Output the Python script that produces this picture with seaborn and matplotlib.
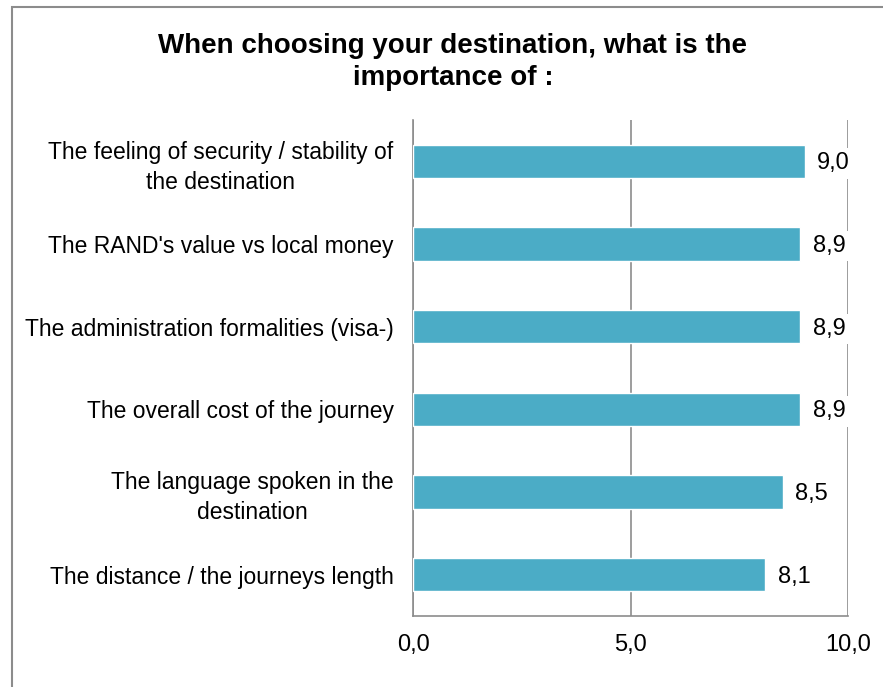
import matplotlib
matplotlib.use("Agg")
import matplotlib.pyplot as plt
import seaborn as sns
import pandas as pd
from matplotlib.patches import Rectangle

categories = [
    "The feeling of security / stability of\nthe destination",
    "The RAND's value vs local money",
    "The administration formalities (visa-)",
    "The overall cost of the journey",
    "The language spoken in the\ndestination",
    "The distance / the journeys length",
]
scores = [9.0, 8.9, 8.9, 8.9, 8.5, 8.1]
x_ticks = [0, 5, 10]
x_tick_labels = ["0,0", "5,0", "10,0"]

title = "When choosing your destination, what is the\nimportance of :"
bar_color = "#4BACC6"
grid_color = "#8C8C8C"

df = pd.DataFrame({"category": categories, "score": scores})

sns.set_theme(style="white")
plt.rcParams["font.family"] = ["Liberation Sans", "DejaVu Sans"]

W, H = 883, 687
fig = plt.figure(figsize=(W / 100, H / 100), dpi=100)
ax = fig.add_axes([413 / W, 1 - 616 / H, (848 - 413) / W, (616 - 120) / H])

sns.barplot(data=df, x="score", y="category", color=bar_color, saturation=1,
            width=0.4, ax=ax, zorder=3)

ax.set_xlim(0, 10)
ax.set_ylim(len(categories) - 0.5, -0.5)
ax.set_xticks(x_ticks)
ax.set_xticklabels(x_tick_labels, fontsize=17, color="#000000")
ax.tick_params(axis="x", length=0, pad=13)
ax.tick_params(axis="y", length=0, pad=14)
for lbl in ax.get_yticklabels():
    lbl.set_fontsize(16.5)
    lbl.set_color("#000000")
    lbl.set_horizontalalignment("right")
    lbl.set_multialignment("center")
    lbl.set_linespacing(1.38)
ax.set_xlabel("")
ax.set_ylabel("")

ax.xaxis.grid(True, color=grid_color, linewidth=1.2, zorder=0)
ax.set_axisbelow(True)
for side in ["top", "right"]:
    ax.spines[side].set_visible(False)
for side in ["left", "bottom"]:
    ax.spines[side].set_color(grid_color)
    ax.spines[side].set_linewidth(1.2)

# value labels on a white box so the gridline at 10 is hidden behind them
for container in ax.containers:
    labels = [f"{v:.1f}".replace(".", ",") for v in container.datavalues]
    texts = ax.bar_label(container, labels=labels, padding=9, fontsize=17,
                         color="#000000")
    for t in texts:
        t.set_bbox(dict(facecolor="white", edgecolor="none", pad=3))
        t.set_zorder(4)
        dx, dy = t.xyann
        t.xyann = (dx, dy - 1.5)

fig.text(453 / W, 1 - 62 / H, title, ha="center", va="center",
         fontsize=20, fontweight="bold", linespacing=1.32, color="#000000")

fig.patches.append(Rectangle((12 / W, -0.01), 1.0, 1 - 7 / H + 0.01,
                             transform=fig.transFigure, fill=False,
                             edgecolor="#8C8C8C", linewidth=1.5))

fig.savefig("out.png", dpi=100)
